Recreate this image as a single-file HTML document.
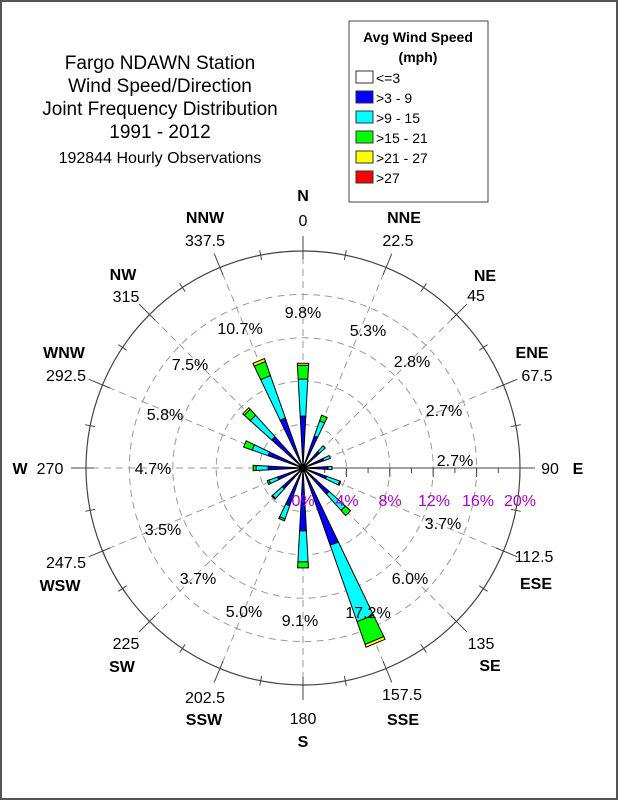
<!DOCTYPE html>
<html><head><meta charset="utf-8"><style>
html,body{margin:0;padding:0;background:#fff;}
svg{display:block;}
text{font-family:"Liberation Sans",Arial,sans-serif;}
</style></head><body>
<svg id="s" width="618" height="800" viewBox="0 0 618 800" xmlns="http://www.w3.org/2000/svg">
<rect x="1" y="1" width="616" height="798" fill="#fff" stroke="#555" stroke-width="2"/>
<g id="grid"></g>
<g id="petals"></g>
<g font-size="19" text-anchor="middle" fill="#000">
<text x="160" y="69">Fargo NDAWN Station</text>
<text x="160" y="92">Wind Speed/Direction</text>
<text x="160" y="115">Joint Frequency Distribution</text>
<text x="160" y="138">1991 - 2012</text>
<text x="160" y="163" font-size="16">192844 Hourly Observations</text>
</g>
<rect x="349" y="21" width="139" height="181" fill="#fff" stroke="#444" stroke-width="1"/>
<g font-size="14" font-weight="bold" text-anchor="middle">
<text x="418" y="42">Avg Wind Speed</text>
<text x="418" y="62">(mph)</text>
</g>
<g font-size="14">
<rect x="356" y="71" width="17" height="12" fill="#fff" stroke="#333"/><text x="376" y="83">&lt;=3</text>
<rect x="356" y="91" width="17" height="12" fill="#0000ff" stroke="#333"/><text x="376" y="103">&gt;3 - 9</text>
<rect x="356" y="111" width="17" height="12" fill="#00ffff" stroke="#333"/><text x="376" y="123">&gt;9 - 15</text>
<rect x="356" y="131" width="17" height="12" fill="#00ff00" stroke="#333"/><text x="376" y="143">&gt;15 - 21</text>
<rect x="356" y="151" width="17" height="12" fill="#ffff00" stroke="#333"/><text x="376" y="163">&gt;21 - 27</text>
<rect x="356" y="171" width="17" height="12" fill="#ff0000" stroke="#333"/><text x="376" y="183">&gt;27</text>
</g>
<g font-size="16" font-weight="bold" text-anchor="middle">
<text x="303" y="201">N</text><text x="404" y="223">NNE</text><text x="485" y="281">NE</text>
<text x="532" y="358">ENE</text><text x="578" y="474">E</text><text x="536" y="589">ESE</text>
<text x="490" y="671">SE</text><text x="403" y="725">SSE</text><text x="303" y="747">S</text>
<text x="204" y="725">SSW</text><text x="122" y="672">SW</text><text x="60" y="591">WSW</text>
<text x="20" y="474">W</text><text x="64" y="358">WNW</text><text x="123" y="280">NW</text><text x="205" y="223">NNW</text>
</g>
<g font-size="16" text-anchor="middle">
<text x="303" y="226">0</text><text x="398" y="246">22.5</text><text x="476" y="301">45</text>
<text x="537" y="381">67.5</text><text x="550" y="474">90</text><text x="534" y="562">112.5</text>
<text x="481" y="649">135</text><text x="402" y="700">157.5</text><text x="303" y="724">180</text>
<text x="205" y="703">202.5</text><text x="126" y="649">225</text><text x="66" y="568">247.5</text>
<text x="50" y="474">270</text><text x="66" y="381">292.5</text><text x="126" y="302">315</text><text x="205" y="246">337.5</text>
</g>
<g font-size="16" text-anchor="middle">
<text x="303" y="318">9.8%</text><text x="368" y="336">5.3%</text><text x="412" y="367">2.8%</text>
<text x="444" y="416">2.7%</text><text x="455" y="466">2.7%</text><text x="443" y="529">3.7%</text>
<text x="410" y="584">6.0%</text><text x="368" y="618">17.2%</text><text x="300" y="626">9.1%</text>
<text x="244" y="617">5.0%</text><text x="198" y="584">3.7%</text><text x="163" y="535">3.5%</text>
<text x="153" y="474">4.7%</text><text x="165" y="420">5.8%</text><text x="190" y="370">7.5%</text><text x="240" y="334">10.7%</text>
</g>
<g font-size="16" text-anchor="middle" fill="#b000d0">
<text x="303" y="506">0%</text><text x="347" y="506">4%</text><text x="390" y="506">8%</text>
<text x="434" y="506">12%</text><text x="478" y="506">16%</text><text x="520" y="506">20%</text>
</g>
</svg>
<script>
(function(){
var NS="http://www.w3.org/2000/svg",cx=303,cy=468,R=217;
function el(p,t,a){var e=document.createElementNS(NS,t);for(var k in a)e.setAttribute(k,a[k]);p.appendChild(e);return e;}
function pt(r,a){var t=a*Math.PI/180;return [cx+r*Math.sin(t),cy-r*Math.cos(t)];}
var g=document.getElementById('grid');
[43.4,86.8,130.2,173.6].forEach(function(r){el(g,'circle',{cx:cx,cy:cy,r:r,fill:'none',stroke:'#999','stroke-dasharray':'7,5','stroke-width':1});});
el(g,'circle',{cx:cx,cy:cy,r:R,fill:'none',stroke:'#444','stroke-width':1.2});
for(var i=0;i<16;i++){var a=i*22.5;
 if(a!==90){var p=pt(R-4,a);el(g,'line',{x1:cx,y1:cy,x2:p[0],y2:p[1],stroke:'#999','stroke-dasharray':'7,5'});}
 var p1=pt(R-8,a),p2=pt(R+15,a);el(g,'line',{x1:p1[0],y1:p1[1],x2:p2[0],y2:p2[1],stroke:'#444'});
 var q1=pt(R-5,a+11.25),q2=pt(R+5,a+11.25);el(g,'line',{x1:q1[0],y1:q1[1],x2:q2[0],y2:q2[1],stroke:'#444'});
}
el(g,'line',{x1:cx,y1:cy,x2:cx+R+10,y2:cy,stroke:'#444'});
for(var k=1;k<=10;k++){var x=cx+k*R/10;var h=k%2==0?9:5;el(g,'line',{x1:x,y1:cy,x2:x,y2:cy+h,stroke:'#444'});}
var D=[[0,52,89,103,105],[22.5,34,50,56],[45,22,30],[67.5,22,29],[90,25,29],[112.5,25,39,40],[135,35,57,64],[157.5,82,163,187,190],[180,63,94,100],[202.5,40,54,56],[225,28,41,42],[247.5,27,36,38],[270,35,47,50],[292.5,37,54,63],[315,42,71,79,81],[337.5,53,98,113,116]];
var C=['#0000ff','#00ffff','#00ff00','#ffff00'],pg=document.getElementById('petals'),d=3.1;
D.forEach(function(r){var a=r[0],r0=0;
 for(var j=1;j<r.length;j++){var r1=r[j];
  var A=pt(r0,a-d),B=pt(r1,a-d),Cc=pt(r1,a+d),E=pt(r0,a+d);
  el(pg,'polygon',{points:[A,B,Cc,E].map(function(p){return p[0].toFixed(1)+','+p[1].toFixed(1);}).join(' '),fill:C[j-1],stroke:'#000','stroke-width':1,'stroke-linejoin':'miter'});
  r0=r1;}
});
el(pg,'circle',{cx:cx,cy:cy,r:4,fill:'#000'});
})();
</script>
</body></html>
